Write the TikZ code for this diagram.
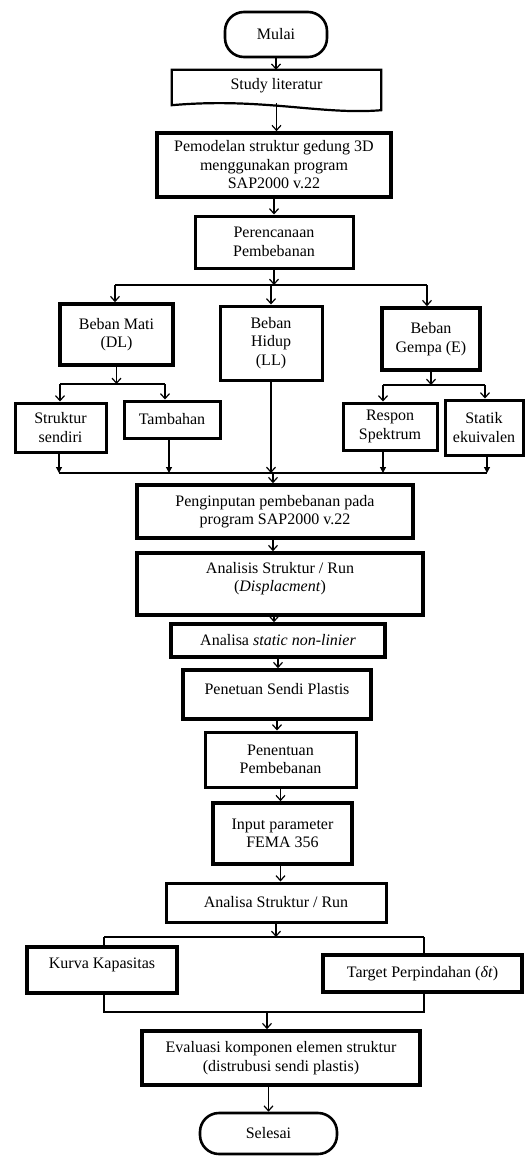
\documentclass[tikz,border=0pt]{standalone}
\usepackage{fontspec}
\setmainfont{Liberation Serif}
\usetikzlibrary{arrows.meta}
\newcommand\fsz{\fontsize{16}{18.5}\selectfont}
\begin{document}
\begin{tikzpicture}[x=1pt,y=-1pt,
  box/.style={draw, line width=3pt, align=center, inner sep=1pt, font=\fsz},
  heavy/.style={line width=3.6pt},
  term/.style={box, line width=2.6pt, rounded corners=19pt},
  plain/.style={align=center, inner sep=1pt, font=\fsz},
  ln/.style={line width=1.2pt},
  arr/.style={line width=1.2pt, -{Straight Barb[length=5pt,width=9pt,line width=1.2pt]}},
  tri/.style={line width=1.2pt, -{Triangle[length=6pt,width=6pt]}}]
\useasboundingbox (0,0) rectangle (531,1157);

% nodes
\node[term, minimum width=102pt, minimum height=45pt] (mulai) at (276,34.5) {Mulai};
\node[plain, minimum width=209pt, minimum height=33pt, text depth=6pt] (study) at (276.5,86.5) {Study literatur};
\draw[line width=2.2pt] (study.north west) -- (study.north east) -- ([yshift=-7pt]study.south east)
  .. controls ([xshift=-60pt,yshift=-12pt]study.south east) and ([xshift=90pt,yshift=6pt]study.south west) .. ([yshift=-2pt]study.south west) -- cycle;
\node[box, heavy, minimum width=234pt, minimum height=64pt] (pemodelan) at (274,165) {Pemodelan struktur gedung 3D\\menggunakan program\\SAP2000 v.22};
\node[box, minimum width=158pt, minimum height=52pt] (peren) at (274,242) {Perencanaan\\Pembebanan};

\node[box, heavy, minimum width=113pt, minimum height=61pt] (mati) at (116.5,334.5) {Beban Mati\\(DL)};
\node[box, minimum width=102pt, minimum height=74pt] (hidup) at (271,343) {Beban\\Hidup\\(LL)};
\node[box, heavy, minimum width=98pt, minimum height=62pt] (gempa) at (431,339) {Beban\\Gempa (E)};

\node[box, minimum width=91pt, minimum height=49pt] (struktur) at (60.5,427.5) {Struktur\\sendiri};
\node[box, minimum width=96pt, minimum height=37pt] (tambahan) at (172,419.5) {Tambahan};
\node[box, minimum width=94pt, minimum height=47pt] (respon) at (390,426.5) {Respon\\Spektrum};
\node[box, minimum width=78pt, minimum height=55pt] (statik) at (484,427.5) {Statik\\ekuivalen};

\node[box, heavy, minimum width=276pt, minimum height=53pt] (pengin) at (275,511.5) {Penginputan pembebanan pada\\program SAP2000 v.22};
\node[box, heavy, minimum width=286pt, minimum height=62pt, text depth=14pt] (analisis) at (280,584) {Analisis Struktur / Run\\(\textit{Displacment})};
\node[box, heavy, minimum width=214pt, minimum height=33pt] (analisa) at (278,640.5) {Analisa \textit{static non-linier}};
\node[box, heavy, minimum width=188pt, minimum height=49pt, text depth=12pt] (sendi) at (277,694.5) {Penetuan Sendi Plastis};
\node[box, minimum width=151pt, minimum height=55pt] (penentuan) at (280.5,759.5) {Penentuan\\Pembebanan};
\node[box, heavy, minimum width=139pt, minimum height=61pt] (input) at (282.5,833.5) {Input parameter\\FEMA 356};
\node[box, minimum width=220pt, minimum height=39pt] (analisa2) at (276,902.5) {Analisa Struktur / Run};
\node[box, heavy, minimum width=150pt, minimum height=46pt, text depth=13pt] (kurva) at (102,970) {Kurva Kapasitas};
\node[box, heavy, minimum width=199pt, minimum height=37pt] (target) at (422.5,973.5) {Target Perpindahan (\textit{δt})};
\node[box, heavy, minimum width=278pt, minimum height=54pt] (evaluasi) at (281,1058) {Evaluasi komponen elemen struktur\\(distrubusi sendi plastis)};
\node[term, minimum width=137pt, minimum height=41pt] (selesai) at (268.5,1133.5) {Selesai};

% junction coordinates
\coordinate (sL) at (115,285);
\coordinate (sR) at (427,285);
\coordinate (m1) at (60,384);
\coordinate (m2) at (165,384);
\coordinate (g1) at (383,385);
\coordinate (g2) at (485,385);
\coordinate (b1) at (59,473);
\coordinate (b2) at (487,473);
\coordinate (k1) at (104,937);
\coordinate (k2) at (424,937);
\coordinate (j1) at (104,1012);
\coordinate (j2) at (424,1012);
\coordinate (j3) at (267,1012);

% connectors
\draw[arr] (mulai.south) -- (mulai.south |- study.north);
\draw[arr] (study.south) -- (study.south |- pemodelan.north);
\draw[arr] (pemodelan.south) -- (pemodelan.south |- peren.north);
\draw[arr] (peren.south) -- (peren.south |- sL);
\draw[ln] (sL) -- (sR);
\draw[arr] (sL) -- (sL |- mati.north);
\draw[arr] (hidup.north |- sL) -- (hidup.north);
\draw[arr] (sR) -- (sR |- gempa.north);

\draw[arr] (mati.south) -- (mati.south |- m1);
\draw[ln] (m1) -- (m2);
\draw[arr] (m1) -- (m1 |- struktur.north);
\draw[arr] (m2) -- (m2 |- tambahan.north);

\draw[arr] (gempa.south) -- (gempa.south |- g1);
\draw[ln] (g1) -- (g2);
\draw[arr] (g1) -- (g1 |- respon.north);
\draw[arr] (g2) -- (g2 |- statik.north);

\draw[ln] (b1) -- (b2);
\draw[tri] (b1 |- struktur.south) -- (b1);
\draw[tri] ([xshift=-3pt]tambahan.south) -- ([xshift=-3pt]tambahan.south |- b1);
\draw[arr] (hidup.south) -- (hidup.south |- b1);
\draw[tri] ([xshift=-7pt]respon.south) -- ([xshift=-7pt]respon.south |- b1);
\draw[tri] (b2 |- statik.south) -- (b2);

\draw[arr] ([xshift=-2pt]pengin.north |- b1) -- ([xshift=-2pt]pengin.north);
\draw[arr] ([xshift=-2pt]pengin.south) -- ([xshift=-2pt]pengin.south |- analisis.north);
\draw[arr] ([xshift=-6pt]analisis.south) -- ([xshift=-6pt]analisis.south |- analisa.north);
\draw[arr] (analisa.south) -- (analisa.south |- sendi.north);
\draw[arr] (sendi.south) -- (sendi.south |- penentuan.north);
\draw[arr] (penentuan.south) -- (penentuan.south |- input.north);
\draw[arr] ([xshift=-2pt]input.south) -- ([xshift=-2pt]input.south |- analisa2.north);
\draw[arr] (analisa2.south) -- (analisa2.south |- k1);
\draw[ln] (k1) -- (k2);
\draw[ln] (k1) -- (k1 |- kurva.north);
\draw[ln] (k2) -- (k2 |- target.north);
\draw[ln] (j1 |- kurva.south) -- (j1) -- (j2) -- (j2 |- target.south);
\draw[arr] (j3) -- (j3 |- evaluasi.north);
\draw[arr] (selesai.north |- evaluasi.south) -- (selesai.north);
\end{tikzpicture}
\end{document}
